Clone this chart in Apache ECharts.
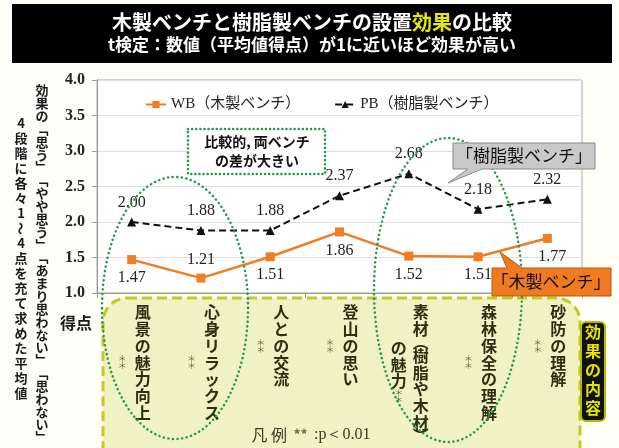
<!DOCTYPE html>
<html><head><meta charset="utf-8">
<script src="https://cdn.jsdelivr.net/npm/echarts@6/dist/echarts.min.js"></script>
<style>html,body{margin:0;padding:0;background:#fffff8;}#c{width:619px;height:448px;}</style>
</head><body><div id="c"></div>
<script>
// ---- data ----
const categories = ['風景の魅力向上','心身リラックス','人との交流','登山の思い','素材（樹脂や木材）\nの魅力','森林保全の理解','砂防の理解'];
const significance = ['**','**','**','**','**','**','**'];
const wbValues = [1.47,1.21,1.51,1.86,1.52,1.51,1.77];
const pbValues = [2.00,1.88,1.88,2.37,2.68,2.18,2.32];
const seriesNames = ['WB（木製ベンチ）','PB（樹脂製ベンチ）'];
const yMin = 1, yMax = 4, yStep = 0.5;
const titleLine1 = ['木製ベンチと樹脂製ベンチの設置','効果','の比較'];
const titleLine2 = 't検定：数値（平均値得点）が1に近いほど効果が高い';
const yNameCol1 = '効果の「思う」「やや思う」「あまり思わない」「思わない」';
const yNameCol2 = '4段階に各々1～4点を充て求めた平均値';
const yUnit = '得点';
const noteText = ['凡 例','**',':p＜0.01'];
const boxTitle = '効果の内容';
const noteBig = ['比較的, 両ベンチ','の差が大きい'];
const calloutPB = '「樹脂製ベンチ」';
const calloutWB = '「木製ベンチ」';

// ---- styles ----
const ORANGE = '#ef7d22';
const serif = '"Liberation Serif","Times New Roman",serif';
const cjk = '"Noto Sans CJK JP","Noto Sans",sans-serif';
const mixed = '"Liberation Serif","Noto Sans CJK JP",serif';
const chart = echarts.init(document.getElementById('c'));

chart.setOption({
  backgroundColor: '#fffff8',
  animation: false,
  grid: {left: 97, right: 37, top: 80, bottom: 155, show: true, backgroundColor: '#ffffff', borderColor: '#a8a8a8', borderWidth: 1},
  legend: {top: 92, left: 140, itemWidth: 20, itemHeight: 9, itemGap: 34,
    textStyle: {fontFamily: mixed, fontSize: 15, color: '#222'}, data: seriesNames},
  xAxis: {type: 'category', data: categories, axisLabel: {show: false},
    axisTick: {show: true, length: 5, lineStyle: {color: '#999'}},
    axisLine: {lineStyle: {color: '#999'}}, splitLine: {show: false}},
  yAxis: {type: 'value', min: yMin, max: yMax, interval: yStep,
    axisLine: {show: true, lineStyle: {color: '#999'}},
    axisTick: {show: true, length: 5, lineStyle: {color: '#999'}},
    splitLine: {lineStyle: {color: '#dedede'}},
    axisLabel: {formatter: v => v.toFixed(1), fontFamily: serif, fontWeight: 'bold', fontSize: 16, color: '#222', margin: 12}},
  series: [
    {name: seriesNames[0], type: 'line', symbol: 'rect', symbolSize: 9, z: 5,
     data: wbValues.map((v, i) => ({value: v, label: {position: i === 1 ? 'top' : 'bottom', offset: i === 6 ? [5, 0] : [0, 0]}})),
     lineStyle: {color: ORANGE, width: 2.5}, itemStyle: {color: ORANGE},
     label: {show: true, formatter: p => p.value.toFixed(2), fontFamily: serif, fontSize: 16, color: '#222', distance: 6}},
    {name: seriesNames[1], type: 'line', symbol: 'triangle', symbolSize: 9, z: 4,
     data: pbValues,
     lineStyle: {color: '#111', width: 2, type: [7, 4]}, itemStyle: {color: '#111'},
     label: {show: true, position: 'top', formatter: p => p.value.toFixed(2), fontFamily: serif, fontSize: 16, color: '#222', distance: 7}}
  ]
});

// ---- annotations ----
const vmap = {'「': '﹁', '」': '﹂', '（': '︵', '）': '︶'};
function vcol(str, x, top, adv, font, fill, z) {
  const els = [];
  let y = top;
  for (const ch of str) {
    const a = (ch === '（' || ch === '）') ? adv * 0.6 : adv;
    const el = {type: 'text', x: x, y: y + a / 2, z: z || 10,
      style: {text: vmap[ch] || ch, font: font, fill: fill, align: 'center', verticalAlign: 'middle'}};
    if (ch === '～') { el.rotation = -Math.PI / 2; }
    els.push(el);
    y += a;
  }
  return {els, end: y};
}
function colHeight(str, adv) {
  let h = 0;
  for (const ch of str) h += (ch === '（' || ch === '）') ? adv * 0.6 : adv;
  return h;
}
function stars(x, yc, z) {
  return [
    {type: 'text', x: x, y: yc - 3.5, z: z || 10, style: {text: '＊', font: '9px ' + cjk, fill: '#6a6a40', align: 'center', verticalAlign: 'middle'}},
    {type: 'text', x: x, y: yc + 3.5, z: z || 10, style: {text: '＊', font: '9px ' + cjk, fill: '#6a6a40', align: 'center', verticalAlign: 'middle'}}
  ];
}

const g = [];
// title
g.push({type: 'rect', shape: {x: 12, y: 4, width: 600, height: 59}, style: {fill: '#000'}, z: 1});
g.push({type: 'text', x: 312, y: 22, z: 2, style: {
  text: '{w|' + titleLine1[0] + '}{y|' + titleLine1[1] + '}{w|' + titleLine1[2] + '}',
  align: 'center', verticalAlign: 'middle',
  rich: {w: {fill: '#fff', font: 'bold 20px ' + cjk}, y: {fill: '#e8e800', font: 'bold 20px ' + cjk}}}});
g.push({type: 'text', x: 312, y: 45, z: 2, style: {text: titleLine2, align: 'center', verticalAlign: 'middle', fill: '#fff', font: 'bold 17px ' + cjk}});

// y axis name (vertical)
vcol(yNameCol1, 42, 84, 12.85, 'bold 13px ' + cjk, '#1a1a1a').els.forEach(e => g.push(e));
vcol(yNameCol2, 21, 116, 15.0, 'bold 13px ' + cjk, '#1a1a1a').els.forEach(e => g.push(e));
const y1 = chart.convertToPixel({yAxisIndex: 0}, yMin);
g.push({type: 'text', x: 76, y: y1 + 30, z: 10, style: {text: yUnit, font: 'bold 16px ' + cjk, fill: '#1a1a1a', align: 'center', verticalAlign: 'middle'}});

// yellow box
const boxTop = y1 + 5;
g.push({type: 'rect', shape: {x: 103, y: boxTop, width: 477, height: 175, r: 24}, z: 3,
  style: {fill: '#f1f1c6', stroke: '#c8c81e', lineWidth: 3, lineDash: [10, 5]}});

// category labels
const CH = 16.7, TOP = boxTop + 6, FONT = 'bold 16px ' + cjk, TXT = '#2e2e12';
categories.forEach((c, i) => {
  const cx = chart.convertToPixel({xAxisIndex: 0}, i);
  const lines = c.split('\n');
  if (lines.length === 1) {
    const r = vcol(c, cx + 11, TOP, CH, FONT, TXT);
    r.els.forEach(e => g.push(e));
    stars(cx - 9.5, (TOP + r.end) / 2).forEach(e => g.push(e));
  } else {
    const H = colHeight(lines[0], CH);
    const r1 = vcol(lines[0], cx + 12, TOP, CH, FONT, TXT);
    r1.els.forEach(e => g.push(e));
    const h2 = colHeight(lines[1], CH) + 16;
    const t2 = TOP + (H - h2) / 2;
    const r2 = vcol(lines[1], cx - 10, t2, CH, FONT, TXT);
    r2.els.forEach(e => g.push(e));
    stars(cx - 10, r2.end + 7).forEach(e => g.push(e));
  }
});

// legend note at bottom
g.push({type: 'text', x: 311, y: 435, z: 10, style: {
  text: '{a|' + noteText[0] + '}{b|  ' + noteText[1] + '  }{c|' + noteText[2] + '}', align: 'center', verticalAlign: 'middle',
  rich: {a: {font: '16px ' + cjk, fill: '#3a3a20'}, b: {font: 'bold 14px ' + cjk, fill: '#6a6a40'}, c: {font: '16px ' + serif, fill: '#3a3a20'}}}});

// 効果の内容 box
g.push({type: 'rect', shape: {x: 581, y: 322, width: 24, height: 99, r: 5}, z: 11, style: {fill: '#111', stroke: '#b8b800', lineWidth: 2}});
vcol(boxTitle, 593, 323, 18.8, 'bold 16px ' + cjk, '#e4e400', 12).els.forEach(e => g.push(e));

// dotted note rect
g.push({type: 'rect', shape: {x: 188, y: 129, width: 137, height: 45}, z: 12, style: {fill: '#fff', stroke: '#1f9a4c', lineWidth: 2.5, lineDash: [0.1, 4], lineCap: 'round'}});
g.push({type: 'text', x: 257, y: 142, z: 13, style: {text: noteBig[0], font: 'bold 14px ' + cjk, fill: '#111', align: 'center', verticalAlign: 'middle'}});
g.push({type: 'text', x: 257, y: 161, z: 13, style: {text: noteBig[1], font: 'bold 14px ' + cjk, fill: '#111', align: 'center', verticalAlign: 'middle'}});

// green dotted ellipses
g.push({type: 'ellipse', shape: {cx: 175, cy: 308, rx: 73, ry: 131}, z: 20, silent: true,
  style: {fill: null, stroke: '#1f9a4c', lineWidth: 2.5, lineDash: [0.1, 4.5], lineCap: 'round'}});
g.push({type: 'ellipse', shape: {cx: 448, cy: 290, rx: 74, ry: 152}, z: 20, silent: true,
  style: {fill: null, stroke: '#1f9a4c', lineWidth: 2.5, lineDash: [0.1, 4.5], lineCap: 'round'}});

// callouts
g.push({type: 'polygon', z: 21, shape: {points: [[453, 143], [595, 143], [595, 169], [482, 169], [448, 183], [468, 169], [453, 169]]},
  style: {fill: '#c9c9c9', stroke: '#8a8a8a', lineWidth: 1}});
g.push({type: 'text', x: 524, y: 156, z: 22, style: {text: calloutPB, font: '17px ' + cjk, fill: '#111', align: 'center', verticalAlign: 'middle'}});
g.push({type: 'polygon', z: 21, shape: {points: [[492, 268], [507, 268], [500, 252], [522, 268], [611, 268], [611, 296], [492, 296]]},
  style: {fill: '#f07a20', stroke: '#b85a10', lineWidth: 1}});
g.push({type: 'text', x: 551, y: 282, z: 22, style: {text: calloutWB, font: '17px ' + cjk, fill: '#111', align: 'center', verticalAlign: 'middle'}});

chart.setOption({graphic: {elements: g}});
</script></body></html>
